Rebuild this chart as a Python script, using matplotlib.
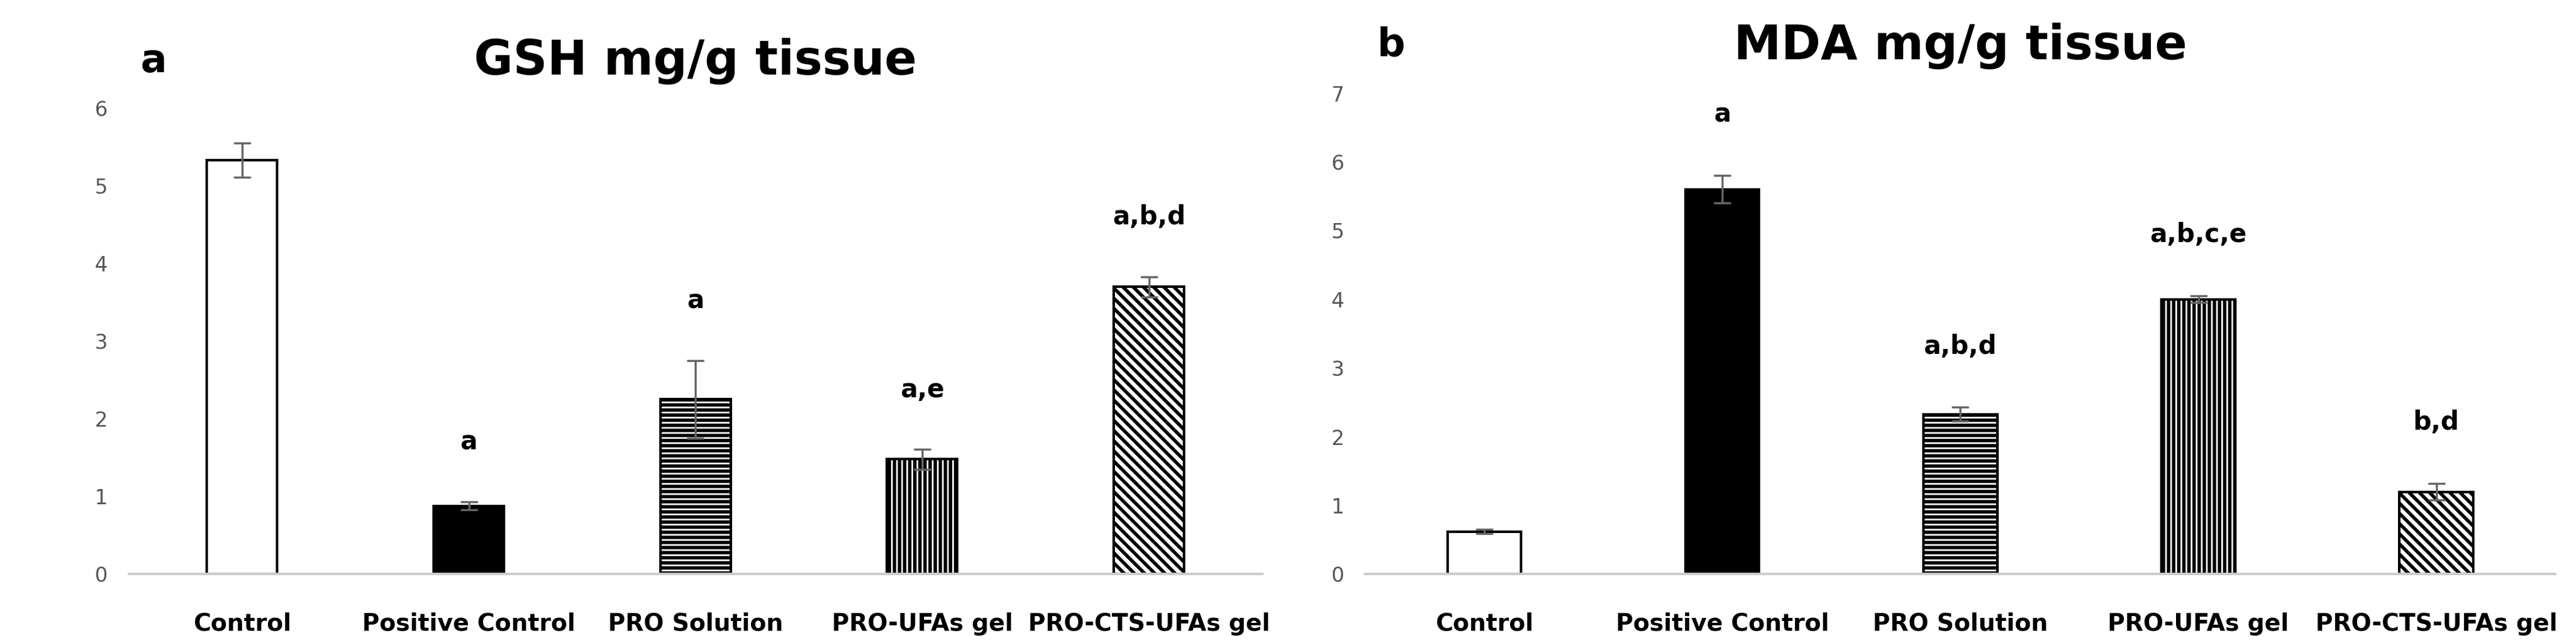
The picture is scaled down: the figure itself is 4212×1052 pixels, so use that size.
import numpy as np
import matplotlib.pyplot as plt

plt.rcParams['font.family'] = 'DejaVu Sans'
plt.rcParams['hatch.linewidth'] = 4.0

groups = ['Control', 'Positive Control', 'PRO Solution', 'PRO-UFAs gel', 'PRO-CTS-UFAs gel']
gsh = [5.33, 0.88, 2.25, 1.48, 3.70]
gsh_err = [0.22, 0.05, 0.50, 0.13, 0.13]
gsh_sig = ['', 'a', 'a', 'a,e', 'a,b,d']
mda = [0.62, 5.60, 2.33, 4.00, 1.20]
mda_err = [0.03, 0.20, 0.10, 0.05, 0.12]
mda_sig = ['', 'a', 'a,b,d', 'a,b,c,e', 'b,d']

fills = ['white', 'black', 'white', 'white', 'white']
hatches = [None, None, '--', '||', '\\\\']

fig = plt.figure(figsize=(42.12, 10.52), dpi=100)
ax1 = fig.add_axes([0.05, 0.107, 0.44, 0.725])
ax2 = fig.add_axes([0.53, 0.107, 0.462, 0.748])


def panel(ax, vals, errs, sig, ymax, title, letter):
    x = np.arange(len(groups))
    for i in x:
        ax.bar(i, vals[i], 0.31, color=fills[i], edgecolor='black', linewidth=3,
               hatch=hatches[i])
        ax.errorbar(i, vals[i], yerr=errs[i], color='#666666', capsize=10,
                    elinewidth=2.5, capthick=2.5)
        if sig[i]:
            ax.text(i, vals[i] + errs[i] + ymax * 0.1, sig[i], ha='center',
                    va='bottom', fontsize=30, fontweight='bold')
    ax.set_ylim(0, ymax)
    ax.set_xlim(-0.5, len(groups) - 0.5)
    ax.set_yticks(range(ymax + 1))
    ax.set_xticks(x)
    ax.set_xticklabels(groups, fontsize=28, fontweight='bold')
    ax.tick_params(axis='y', labelsize=24, colors='#555555', length=0, pad=25)
    ax.tick_params(axis='x', length=0, pad=45)
    for s in ['top', 'right', 'left']:
        ax.spines[s].set_visible(False)
    ax.spines['bottom'].set_color('#cccccc')
    ax.spines['bottom'].set_linewidth(3)
    ax.set_title(title, fontsize=56, fontweight='bold', pad=40)
    ax.text(0.01, 1.06, letter, transform=ax.transAxes, fontsize=46,
            fontweight='bold', va='bottom')


panel(ax1, gsh, gsh_err, gsh_sig, 6, 'GSH mg/g tissue', 'a')
panel(ax2, mda, mda_err, mda_sig, 7, 'MDA mg/g tissue', 'b')

fig.savefig('out.png', dpi=100)
